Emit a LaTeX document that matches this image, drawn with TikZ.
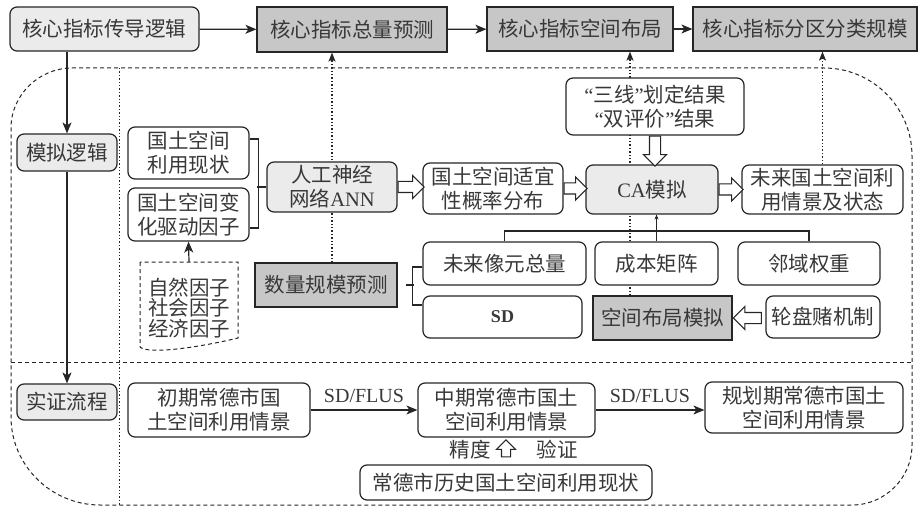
\documentclass[tikz,border=0pt]{standalone}
\usepackage{fontspec}
\setmainfont{Noto Sans CJK SC}
\newfontfamily\latin{Liberation Serif}
\usetikzlibrary{arrows.meta,shapes.arrows,backgrounds,calc}
\definecolor{lite}{gray}{0.92}
\definecolor{dark}{gray}{0.78}
\definecolor{ink}{gray}{0.15}
\definecolor{txt}{gray}{0.22}
\tikzset{
	base/.style={draw=ink, line width=1.2pt, align=center, inner sep=0pt, text=txt, font=\fontsize{20.5}{24}\selectfont},
	box/.style={base, rounded corners=7pt, fill=white},
	litebox/.style={box, fill=lite},
	darkbox/.style={base, fill=dark},
	wh/.style 2 args={minimum width=#1pt, minimum height=#2pt},
	wire/.style={draw=ink, line width=1.2pt},
	link/.style={wire, -{Stealth[length=11pt,width=9pt,inset=3pt]}},
	dotlink/.style={draw=ink, line width=1.2pt, dash pattern=on 1.4pt off 2pt, -{Stealth[length=9pt,width=7pt,inset=2pt]}},
	harrow/.style={single arrow, draw=ink, fill=white, line width=1.1pt, inner sep=5pt, single arrow head extend=6pt},
	frame/.style={draw=ink, line width=1pt, dash pattern=on 4pt off 3pt},
	divider/.style={draw=ink, line width=1pt, dash pattern=on 1.4pt off 2pt},
}
\begin{document}
\begin{tikzpicture}[x=1pt, y=-1pt]
	\useasboundingbox (0,0) rectangle (919,508);
	% top row
	\node[litebox, wh={189}{44}] (logic) at (104.5,29) {核心指标传导逻辑};
	\node[darkbox, wh={190}{45}] (total) at (352,29.5) {核心指标总量预测};
	\node[darkbox, wh={186}{44}] (spatial) at (580,29) {核心指标空间布局};
	\node[darkbox, wh={224}{44}] (zoning) at (805,29) {核心指标分区分类规模};
	\draw[link] (logic) -- (total);
	\draw[link] (total) -- (spatial);
	\draw[link] (spatial) -- (zoning);

	% left column
	\node[litebox, wh={100}{37}] (simlog) at (67,152.5) {模拟逻辑};
	\node[litebox, wh={100}{36}] (emplog) at (67,402) {实证流程};
	\draw[link] (simlog.north |- logic.south) -- (simlog.north);
	\draw[link] (simlog) -- (emplog);

	% simulation logic
	\node[box, wh={121}{52}] (use) at (188.5,153) {国土空间\\利用现状};
	\node[box, wh={121}{53}] (drive) at (188.5,214.5) {国土空间变\\化驱动因子};
	\node[litebox, wh={130}{50}] (ann) at (332,187) {人工神经\\网络{\latin ANN}};
	\node[box, wh={140}{51}] (suit) at (493,188.5) {国土空间适宜\\性概率分布};
	\node[litebox, wh={132}{49}] (ca) at (652,189.5) {{\latin CA}模拟};
	\node[box, wh={161}{49}] (future) at (822.5,189.5) {未来国土空间利\\用情景及状态};
	\node[box, wh={178}{57}] (redline) at (655,106.5) {{\latin “}三线{\latin ”}划定结果\\{\latin “}双评价{\latin ”}结果};
	\node[box, wh={163}{43}] (cells) at (504.5,263.5) {未来像元总量};
	\node[box, wh={123}{43}] (cost) at (656.5,263.5) {成本矩阵};
	\node[box, wh={142}{43}] (nbr) at (809,263.5) {邻域权重};
	\node[box, wh={159}{42}] (sd) at (502.5,317) {\latin\bfseries\fontsize{18}{20}\selectfont SD};
	\node[darkbox, wh={139}{44}] (layout) at (662.5,318) {空间布局模拟};
	\node[box, wh={114}{42}] (wheel) at (823,317) {轮盘赌机制};
	\node[darkbox, wh={142}{44}] (qty) at (326,285) {数量规模预测};
	\node[base, draw=none, font=\fontsize{20.5}{20.5}\selectfont] (factor) at (189,308) {自然因子\\社会因子\\经济因子};
	\draw[frame] (140,262) -- (140,347) .. controls (147,354) and (192,349) .. (238,338) -- (238,262) -- cycle;
	\coordinate (ftop) at (189,262);
	\draw[link] (ftop) -- (drive.south);

	% brackets
	\draw[wire] ($(use.east)+(0,-14)$) -- ++(9,0) |- ($(drive.east)+(0,13.5)$);
	\draw[wire] (ann.west) -- ++(-9,0);
	\draw[wire] ($(qty.east)+(8,0)$) -- ++(8,0);
	\draw[wire] ($(cells.west)+(0,3.5)$) -- ++(-10,0) |- ($(sd.west)+(0,-12)$);

	% hollow arrows
	\node[harrow, anchor=tail, minimum height=26pt] at (ann.east) {};
	\node[harrow, anchor=tail, minimum height=23pt] at (suit.east) {};
	\node[harrow, anchor=tail, minimum height=24pt] at (ca.east) {};
	\node[harrow, anchor=tail, minimum height=30pt, shape border rotate=270] at (redline.south) {};
	\node[harrow, anchor=tip, minimum height=28pt, shape border rotate=180] at (layout.east) {};

	% factors feeding the CA model
	\coordinate (bar) at (0,231);
	\draw[wire] (cells.north) -- (cells.north |- bar) -- (nbr.north |- bar) -- (nbr.north);
	\draw[wire, -{Stealth[length=5pt,width=4pt]}] (cost.north) -- (cost.north |- ca.south);

	% empirical flow
	\node[box, wh={182}{54}] (early) at (219,410) {初期常德市国\\土空间利用情景};
	\node[box, wh={177}{54}] (mid) at (506.5,410) {中期常德市国土\\空间利用情景};
	\node[box, wh={198}{51}] (plan) at (804,407.5) {规划期常德市国土\\空间利用情景};
	\node[box, wh={292}{35}] (hist) at (506,482.5) {常德市历史国土空间利用现状};
	\draw[link] (early) -- node[above=3pt, text=txt, font=\latin\fontsize{20}{22}\selectfont] {SD/FLUS} (mid);
	\draw[link] (mid.east) -- node[above=3pt, text=txt, font=\latin\fontsize{20}{22}\selectfont] {SD/FLUS} (plan.west |- mid.east);
	\node[harrow, inner sep=4pt, single arrow head extend=5pt, anchor=tail, minimum height=17pt, shape border rotate=90] at ($(hist.north)+(0,-7)$) {};
	\node[base, draw=none] (acc) at (470,450) {精度};
	\node[base, draw=none] (val) at (557,450) {验证};

	\begin{scope}[on background layer]
		\draw[frame] (72,68) -- (824,68) .. controls (872.6,68) and (912,107.4) .. (912,156)
			-- (912,445) .. controls (912,478) and (885,505) .. (852,505)
			-- (100,505) .. controls (51.4,505) and (11,465.6) .. (11,417)
			-- (11,128) .. controls (11,95) and (39,68) .. (72,68) -- cycle;
		\draw[frame] (11,362) -- (912,362);
		\draw[divider] (119,68) -- (119,505);
		\coordinate (dotx) at (630,0);
		\draw[dotlink] (qty.north -| ann) -- (total.south -| ann);
		\draw[dotlink] (layout.north -| dotx) -- (spatial.south -| dotx);
		\draw[dotlink] (future.north) -- (future.north |- zoning.south);
	\end{scope}
\end{tikzpicture}
\end{document}
